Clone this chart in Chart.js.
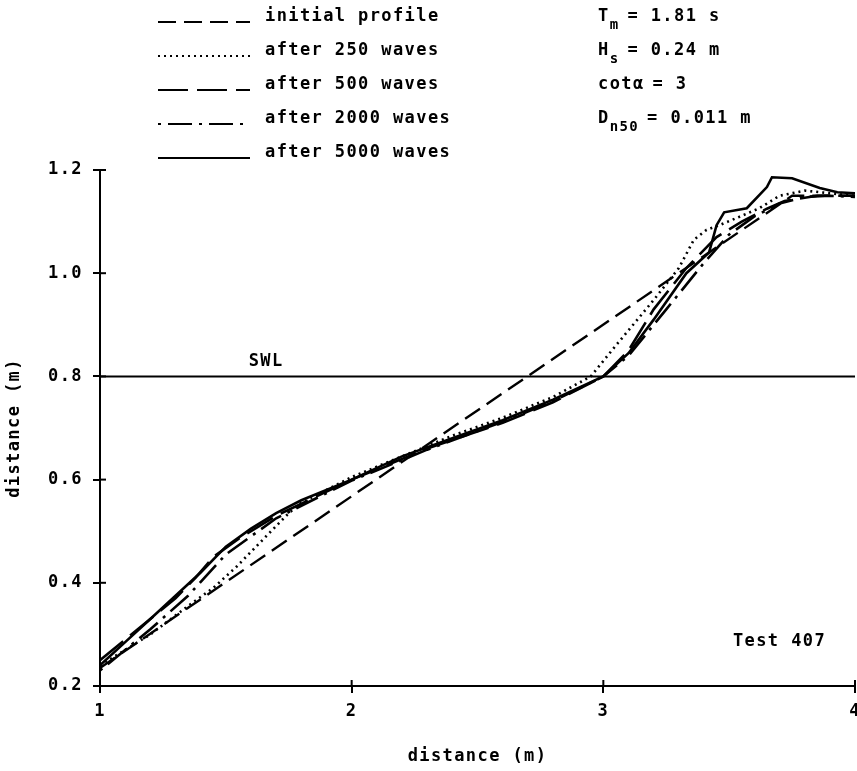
<!DOCTYPE html>
<html>
<head>
<meta charset="utf-8">
<script src="https://cdn.jsdelivr.net/npm/chart.js@4.4.1/dist/chart.umd.min.js"></script>
<style>
  html, body { margin: 0; padding: 0; background: #fff; }
</style>
</head>
<body>
<canvas id="profileChart" width="857" height="771"></canvas>
<script>
// profile data (x = distance along flume, y = height)
const initialX = [1.0, 3.75, 4.0];
const initialY = [0.235, 1.150, 1.150];

const waves250X = [1.0, 1.2, 1.35, 1.45, 1.54, 1.6, 1.7, 1.75, 1.8, 2.0, 2.2, 2.4, 2.6, 2.8, 2.95, 3.05, 3.2, 3.3, 3.36, 3.41, 3.46, 3.53, 3.62, 3.7, 3.8, 4.0];
const waves250Y = [0.24, 0.30, 0.355, 0.39, 0.43, 0.46, 0.51, 0.535, 0.555, 0.605, 0.645, 0.685, 0.72, 0.76, 0.80, 0.86, 0.948, 1.01, 1.065, 1.084, 1.093, 1.107, 1.126, 1.15, 1.16, 1.15];

const waves500X = [1.0, 1.15, 1.3, 1.38, 1.45, 1.55, 1.7, 1.85, 2.0, 2.3, 2.6, 2.8, 3.0, 3.1, 3.2, 3.33, 3.45, 3.55, 3.65, 3.72, 3.85, 4.0];
const waves500Y = [0.25, 0.31, 0.37, 0.41, 0.45, 0.485, 0.53, 0.565, 0.60, 0.66, 0.71, 0.75, 0.80, 0.85, 0.93, 1.01, 1.07, 1.10, 1.125, 1.14, 1.15, 1.15];

const waves2000X = [1.0, 1.2, 1.35, 1.5, 1.7, 2.0, 2.3, 2.6, 2.8, 3.0, 3.1, 3.25, 3.4, 3.5, 3.6, 3.7, 3.8, 3.9, 4.0];
const waves2000Y = [0.23, 0.31, 0.375, 0.455, 0.525, 0.598, 0.658, 0.712, 0.752, 0.80, 0.84, 0.93, 1.02, 1.075, 1.11, 1.135, 1.148, 1.15, 1.148];

const waves5000X = [1.0, 1.1, 1.2, 1.3, 1.4, 1.5, 1.6, 1.7, 1.8, 2.0, 2.2, 2.4, 2.6, 2.8, 3.0, 3.1, 3.2, 3.33, 3.42, 3.45, 3.48, 3.57, 3.65, 3.67, 3.75, 3.86, 3.93, 4.0];
const waves5000Y = [0.24, 0.285, 0.33, 0.375, 0.42, 0.47, 0.505, 0.535, 0.56, 0.60, 0.645, 0.68, 0.715, 0.755, 0.80, 0.845, 0.91, 1.0, 1.04, 1.093, 1.118, 1.126, 1.167, 1.186, 1.184, 1.165, 1.157, 1.155];

// still water level
const swlX = [1.0, 4.0];
const swlY = [0.8, 0.8];

const xTicks = [1, 2, 3, 4];
const yTicks = [0.2, 0.4, 0.6, 0.8, 1.0, 1.2];

const FONT = "'DejaVu Sans Mono', monospace";
const SPACING = '1.4px';

const toPoints = (xs, ys) => xs.map((x, i) => ({ x: x, y: ys[i] }));

// legend, test parameters and labels drawn on top of the plot
const annotations = {
    id: 'annotations',
    beforeDraw(chart) {
        chart.ctx.letterSpacing = SPACING;
    },
    afterDraw(chart) {
        const ctx = chart.ctx;
        const xs = chart.scales.x;
        const ys = chart.scales.y;
        ctx.save();
        ctx.fillStyle = '#000';
        ctx.strokeStyle = '#000';
        ctx.letterSpacing = SPACING;
        ctx.font = 'bold 17px ' + FONT;
        ctx.textBaseline = 'middle';
        ctx.textAlign = 'left';

        // legend
        chart.data.datasets.filter(d => d.label).forEach((d, i) => {
            const y = 17 + i * 34;
            ctx.lineWidth = 2.2;
            ctx.setLineDash(d.borderDash || []);
            ctx.beginPath();
            ctx.moveTo(158, y + 5);
            ctx.lineTo(250, y + 5);
            ctx.stroke();
            ctx.setLineDash([]);
            ctx.fillText(d.label, 265, y);
        });

        // test conditions with subscripts
        const param = (main, sub, rest, y) => {
            ctx.font = 'bold 17px ' + FONT;
            ctx.fillText(main, 598, y);
            let x = 598 + ctx.measureText(main).width;
            if (sub) {
                ctx.font = 'bold 14px ' + FONT;
                ctx.fillText(sub, x, y + 8);
                x += ctx.measureText(sub).width;
            }
            ctx.font = 'bold 17px ' + FONT;
            ctx.fillText(rest, x + 8, y);
        };
        param('T', 'm', '= 1.81 s', 17);
        param('H', 's', '= 0.24 m', 51);
        param('cot\u03B1', '', '= 3', 85);
        param('D', 'n50', '= 0.011 m', 119);

        ctx.font = 'bold 17px ' + FONT;
        ctx.textAlign = 'center';
        ctx.fillText('SWL', xs.getPixelForValue(1.66), ys.getPixelForValue(0.8) - 15);
        ctx.fillText('Test 407', xs.getPixelForValue(3.7), ys.getPixelForValue(0.287));

        // ticks cross the axis lines
        ctx.lineWidth = 2;
        xTicks.slice(1).forEach(v => {
            const px = xs.getPixelForValue(v);
            ctx.beginPath();
            ctx.moveTo(px, xs.top);
            ctx.lineTo(px, xs.top - 6);
            ctx.stroke();
        });
        yTicks.forEach(v => {
            const py = ys.getPixelForValue(v);
            ctx.beginPath();
            ctx.moveTo(ys.right, py);
            ctx.lineTo(ys.right + 6, py);
            ctx.stroke();
        });
        ctx.restore();
        ctx.letterSpacing = '0px';
    }
};

const line = (label, xs, ys, dash, width) => ({
    label: label,
    data: toPoints(xs, ys),
    showLine: true,
    borderColor: '#000',
    backgroundColor: '#000',
    borderWidth: width,
    borderDash: dash,
    pointRadius: 0,
    fill: false,
    tension: 0
});

const tickFont = { family: FONT, size: 17, weight: 'bold' };

new Chart(document.getElementById('profileChart'), {
    type: 'scatter',
    data: {
        datasets: [
            line('initial profile', initialX, initialY, [18, 8], 2.4),
            line('after 250 waves', waves250X, waves250Y, [2, 4], 2.6),
            line('after 500 waves', waves500X, waves500Y, [30, 9], 2.6),
            line('after 2000 waves', waves2000X, waves2000Y, [3, 7, 24, 7], 2.6),
            line('after 5000 waves', waves5000X, waves5000Y, [], 2.6),
            line('', swlX, swlY, [], 2)
        ]
    },
    options: {
        responsive: false,
        animation: false,
        layout: { padding: { top: 170, right: 2, left: 0, bottom: 0 } },
        plugins: {
            legend: { display: false },
            tooltip: { enabled: false }
        },
        scales: {
            x: {
                type: 'linear',
                min: 1,
                max: 4,
                afterFit: (s) => { s.height = 85; s.paddingLeft = 0; s.paddingRight = 0; },
                afterBuildTicks: (s) => { s.ticks = xTicks.map(v => ({ value: v })); },
                border: { display: true, color: '#000', width: 2 },
                grid: { display: true, drawOnChartArea: false, drawTicks: true, tickLength: 7, color: '#000', lineWidth: 2 },
                ticks: { color: '#000', font: tickFont, padding: 8, callback: (v) => String(v) },
                title: { display: true, text: 'distance (m)', color: '#000', font: tickFont, padding: { top: 0, bottom: 4 } }
            },
            y: {
                type: 'linear',
                min: 0.2,
                max: 1.2,
                afterFit: (s) => { s.width = 100; s.paddingTop = 0; s.paddingBottom = 0; },
                afterBuildTicks: (s) => { s.ticks = yTicks.map(v => ({ value: v })); },
                border: { display: true, color: '#000', width: 2 },
                grid: { display: true, drawOnChartArea: false, drawTicks: true, tickLength: 7, color: '#000', lineWidth: 2 },
                ticks: { color: '#000', font: tickFont, padding: 10, callback: (v) => Number(v).toFixed(1) },
                title: { display: true, text: 'distance (m)', color: '#000', font: tickFont, padding: { top: 4, bottom: 0 } }
            }
        }
    },
    plugins: [annotations]
});
</script>
</body>
</html>
